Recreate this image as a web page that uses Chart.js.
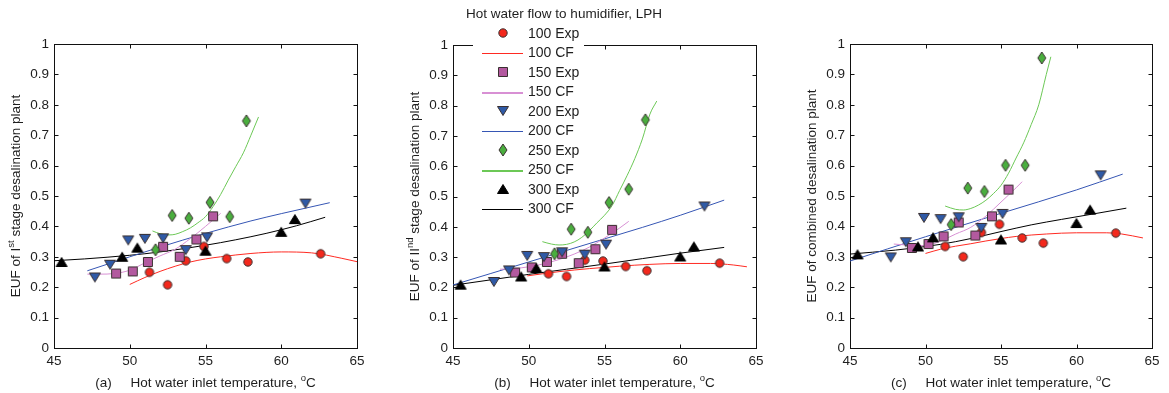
<!DOCTYPE html>
<html><head><meta charset="utf-8">
<script src="https://cdn.jsdelivr.net/npm/chart.js@4.4.1/dist/chart.umd.min.js"></script>
<style>
html,body{margin:0;padding:0;background:#fff;overflow:hidden;}
.panel{position:absolute;top:0;height:393px;}
</style></head><body>
<div class="panel" style="left:0;width:380px"><canvas id="chartA"></canvas></div>
<div class="panel" style="left:380px;width:390px"><canvas id="chartB"></canvas></div>
<div class="panel" style="left:770px;width:399px"><canvas id="chartC"></canvas></div>
<script>
// hot water flow to humidifier, LPH
const flows=['100','150','200','250','300'];
const xTicks=[45,50,55,60,65];
const yTicks=[0,0.1,0.2,0.3,0.4,0.5,0.6,0.7,0.8,0.9,1];

// inlet temperatures of the experimental runs (degC)
const t100=[51.3,52.5,53.7,54.9,56.4,57.8,62.6];
const t150=[49.1,50.2,51.2,52.2,53.3,54.4,55.5];
const t200=[47.7,48.7,49.9,51.0,52.2,53.7,55.1,61.6];
const t250=[51.7,52.8,53.9,55.3,56.6,57.7];
const t300=[45.5,49.5,50.5,55.0,60.0,60.9];

// (a) EUF of 1st stage, measured
const a100=[0.249,0.208,0.287,0.334,0.294,0.283,0.310];
const a150=[0.245,0.252,0.283,0.333,0.300,0.357,0.433];
const a200=[0.232,0.274,0.354,0.359,0.361,0.322,0.364,0.475];
const a250=[0.323,0.436,0.427,0.479,0.432,0.747];
const a300=[0.283,0.300,0.330,0.320,0.382,0.424];
// (a) curve fits [T, EUF]
const aFit100=[[50,0.209],[51,0.232],[52,0.252],[53,0.269],[54,0.283],[55,0.293],[56,0.300],[58,0.311],[60,0.316],[62,0.313],[64,0.295],[65,0.284]];
const aFit150=[[47.2,0.243],[48,0.243],[49,0.245],[50,0.256],[51,0.280],[52,0.303],[53,0.325],[54,0.360],[55,0.400],[56,0.443]];
const aFit200=[[47.2,0.254],[50,0.300],[52,0.332],[55,0.377],[58,0.418],[60,0.442],[63.2,0.478]];
const aFit250=[[51.5,0.385],[52,0.376],[52.6,0.372],[53,0.374],[53.5,0.383],[54,0.395],[54.5,0.412],[55,0.432],[55.5,0.465],[56,0.505],[56.5,0.552],[57,0.597],[57.5,0.642],[58,0.700],[58.5,0.760]];
const aFit300=[[45,0.287],[47,0.293],[50,0.305],[52,0.316],[55,0.338],[57,0.356],[59,0.377],[61,0.402],[62.9,0.430]];

// (b) EUF of 2nd stage, measured
const b100=[0.245,0.236,0.290,0.287,0.269,0.255,0.280];
const b150=[0.249,0.266,0.284,0.311,0.280,0.326,0.390];
const b200=[0.218,0.256,0.304,0.300,0.316,0.308,0.341,0.467];
const b250=[0.311,0.392,0.382,0.480,0.524,0.753];
const b300=[0.209,0.236,0.264,0.269,0.302,0.335];
const bFit100=[[49.9,0.238],[52,0.252],[54,0.262],[56,0.270],[58,0.276],[60,0.279],[62,0.279],[63.5,0.274],[64.4,0.268]];
const bFit150=[[48.1,0.260],[49,0.262],[50,0.268],[51,0.278],[52,0.292],[53,0.310],[54,0.333],[55,0.363],[56,0.396],[56.6,0.418]];
const bFit200=[[45,0.208],[47.5,0.246],[50,0.284],[52.5,0.322],[55,0.360],[57.5,0.398],[60,0.438],[62.9,0.488]];
const bFit250=[[50.9,0.351],[51.5,0.343],[52,0.340],[52.5,0.342],[53,0.350],[53.5,0.365],[54,0.387],[54.5,0.413],[55,0.438],[55.5,0.470],[56,0.520],[56.5,0.570],[57,0.625],[57.5,0.690],[58,0.772],[58.45,0.815]];
const bFit300=[[45,0.207],[47.5,0.225],[50,0.243],[52.5,0.260],[55,0.277],[57.5,0.295],[60,0.313],[62.9,0.332]];

// (c) EUF of combined plant, measured
const c100=[0.334,0.300,0.380,0.407,0.362,0.345,0.378];
const c150=[0.329,0.342,0.367,0.413,0.370,0.433,0.521];
const c200=[0.298,0.348,0.428,0.424,0.430,0.395,0.441,0.568];
const c250=[0.406,0.526,0.515,0.601,0.601,0.954];
const c300=[0.308,0.334,0.364,0.357,0.411,0.455];
const cFit100=[[50,0.311],[51,0.325],[52,0.335],[53,0.343],[54,0.352],[55,0.360],[56,0.367],[58,0.375],[60,0.379],[62,0.379],[63,0.375],[64.4,0.362]];
const cFit150=[[47.9,0.342],[49,0.338],[50,0.337],[51,0.352],[52,0.375],[53,0.397],[54,0.434],[55,0.480],[56,0.527],[56.4,0.547]];
const cFit200=[[45,0.286],[50,0.366],[55,0.443],[60,0.520],[63.06,0.572]];
const cFit250=[[51.3,0.467],[52,0.456],[52.5,0.454],[53,0.459],[53.5,0.470],[54,0.486],[54.5,0.508],[55,0.535],[55.5,0.575],[56,0.625],[56.5,0.675],[57,0.735],[57.5,0.800],[58,0.900],[58.3,0.958]];
const cFit300=[[45,0.309],[48,0.322],[51,0.341],[53,0.360],[55,0.383],[57,0.405],[59,0.423],[61,0.440],[63.3,0.460]];

const TEXT='#1e1e1e';
const FONT='"Liberation Sans", Arial, sans-serif';
const look={
  '100':{shape:'circle',fill:'#f3281c',line:'#ff2a22'},
  '150':{shape:'square',fill:'#b3599f',line:'#d890d4'},
  '200':{shape:'down',fill:'#2f5aa6',line:'#3656b4'},
  '250':{shape:'diamond',fill:'#4aae3e',line:'#6cc856'},
  '300':{shape:'up',fill:'#000000',line:'#000000'}
};

function drawShape(ctx,shape,cx,cy){
  ctx.beginPath();
  if(shape==='circle'){ ctx.arc(cx,cy,4.2,0,Math.PI*2); }
  else if(shape==='square'){ ctx.rect(cx-4.5,cy-4.5,9,9); }
  else if(shape==='down'){ ctx.moveTo(cx-5.5,cy-4.5); ctx.lineTo(cx+5.5,cy-4.5); ctx.lineTo(cx,cy+4.5); ctx.closePath(); }
  else if(shape==='up'){ ctx.moveTo(cx-5.5,cy+4.5); ctx.lineTo(cx+5.5,cy+4.5); ctx.lineTo(cx,cy-4.5); ctx.closePath(); }
  else { ctx.moveTo(cx,cy-6); ctx.lineTo(cx+4,cy); ctx.lineTo(cx,cy+6); ctx.lineTo(cx-4,cy); ctx.closePath(); }
}
function markerImage(flow){
  const c=document.createElement('canvas');
  c.width=16; c.height=16;
  const ctx=c.getContext('2d');
  drawShape(ctx,look[flow].shape,8,8);
  ctx.fillStyle=look[flow].fill; ctx.fill();
  ctx.lineWidth=1; ctx.strokeStyle=flow==='300'?'#000':'#3a3030'; ctx.stroke();
  return c;
}
const markers={};
flows.forEach((f)=>{ markers[f]=markerImage(f); });

function drawRich(ctx,parts,cx,cy,rot){
  ctx.save();
  ctx.translate(cx,cy);
  if(rot) ctx.rotate(-Math.PI/2);
  const fontOf=(p)=> p[1]?`9.5px ${FONT}`:`13.5px ${FONT}`;
  let w=0;
  parts.forEach((p)=>{ ctx.font=fontOf(p); w+=ctx.measureText(p[0]).width; });
  let x=-w/2;
  ctx.fillStyle=TEXT; ctx.textBaseline='alphabetic'; ctx.textAlign='left';
  parts.forEach((p)=>{
    ctx.font=fontOf(p);
    ctx.fillText(p[0],x,p[1]?-1.5:4.5);
    x+=ctx.measureText(p[0]).width;
  });
  ctx.restore();
}

const frame={
  id:'frame',
  beforeDatasetsDraw(chart){
    const {ctx,chartArea:a,scales:{x,y}}=chart;
    ctx.save();
    ctx.strokeStyle='#111'; ctx.lineWidth=1;
    const L=Math.round(a.left)+0.5,R=Math.round(a.right)+0.5,T=Math.round(a.top)+0.5,B=Math.round(a.bottom)+0.5;
    ctx.strokeRect(L,T,R-L,B-T);
    ctx.beginPath();
    xTicks.forEach((v)=>{
      const px=Math.round(x.getPixelForValue(v))+0.5;
      ctx.moveTo(px,B); ctx.lineTo(px,B-4);
      ctx.moveTo(px,T); ctx.lineTo(px,T+4);
    });
    yTicks.forEach((v)=>{
      const py=Math.round(y.getPixelForValue(v))+0.5;
      ctx.moveTo(L,py); ctx.lineTo(L+4,py);
      ctx.moveTo(R,py); ctx.lineTo(R-4,py);
    });
    ctx.stroke();
    ctx.restore();
  },
  afterDraw(chart,args,opts){
    const {ctx,chartArea:a}=chart;
    drawRich(ctx,opts.yTitle,a.left-39,(a.top+a.bottom)/2,true);
    drawRich(ctx,opts.xTitle,(a.left+a.right)/2,382,false);
    if(opts.legend) drawLegend(chart);
  }
};

function drawLegend(chart){
  const ctx=chart.ctx;
  const off=380;
  ctx.save();
  ctx.fillStyle='#fff';
  ctx.fillRect(473-off,0,111,218);
  ctx.fillStyle=TEXT; ctx.textBaseline='middle'; ctx.textAlign='center';
  ctx.font=`13.5px ${FONT}`;
  ctx.fillText('Hot water flow to humidifier, LPH',564-off,14);
  ctx.textAlign='left';
  ctx.font=`14px ${FONT}`;
  let y=33;
  flows.forEach((f)=>{
    ctx.drawImage(markers[f],503-off-8,Math.round(y)-8);
    ctx.fillStyle=TEXT;
    ctx.fillText(`${f} Exp`,528-off,y+1);
    y+=19.5;
    const thick=(f==='150'||f==='250')?2:1;
    ctx.fillStyle=look[f].line;
    ctx.fillRect(482-off,Math.round(y),41,thick);
    ctx.fillStyle=TEXT;
    ctx.fillText(`${f} CF`,528-off,y+1);
    y+=19.5;
  });
  ctx.restore();
}

Chart.defaults.font.family=FONT;
Chart.defaults.font.size=13;
Chart.defaults.color=TEXT;

function buildPanel(id,exp,fits,opts){
  const temps=[t100,t150,t200,t250,t300];
  const expSets=flows.map((f,i)=>({
    label:`${f} Exp`,
    data:temps[i].map((t,k)=>({x:t,y:exp[i][k]})),
    showLine:false,
    pointStyle:markers[f],
    pointRadius:5,
    pointHoverRadius:5,
    clip:10
  }));
  const fitSets=flows.map((f,i)=>({
    label:`${f} CF`,
    data:fits[i].map((p)=>({x:p[0],y:p[1]})),
    showLine:true,
    borderColor:look[f].line,
    borderWidth:1,
    pointRadius:0,
    cubicInterpolationMode:'monotone',
    fill:false
  }));
  return new Chart(document.getElementById(id),{
    type:'scatter',
    data:{ datasets:[...expSets.reverse(),...fitSets] },
    options:{
      responsive:true,
      maintainAspectRatio:false,
      animation:false,
      events:[],
      layout:{ padding:{ top:opts.top, right:opts.right, left:0, bottom:0 } },
      plugins:{
        legend:{ display:false },
        tooltip:{ enabled:false },
        frame:{ yTitle:opts.yTitle, xTitle:opts.xTitle, legend:!!opts.legend }
      },
      scales:{
        x:{
          type:'linear', min:45, max:65,
          afterBuildTicks:(s)=>{ s.ticks=xTicks.map((v)=>({value:v})); },
          ticks:{ padding:5, color:TEXT, font:{size:13.5} },
          grid:{ display:false, drawTicks:false },
          border:{ display:false },
          afterFit:(s)=>{ s.height=45; }
        },
        y:{
          type:'linear', min:0, max:1,
          afterBuildTicks:(s)=>{ s.ticks=yTicks.map((v)=>({value:v})); },
          ticks:{ padding:5, color:TEXT, font:{size:13.5}, callback:(v)=>String(Number(v.toFixed(1))) },
          grid:{ display:false, drawTicks:false },
          border:{ display:false },
          afterFit:(s)=>{ s.width=opts.yWidth; }
        }
      }
    },
    plugins:[frame]
  });
}

buildPanel('chartA',[a100,a150,a200,a250,a300],[aFit100,aFit150,aFit200,aFit250,aFit300],{
  top:44, right:23, yWidth:54,
  yTitle:[['EUF of I',0],['st',1],[' stage desalination plant',0]],
  xTitle:[['(a)     Hot water inlet temperature, ',0],['o',1],['C',0]]
});
buildPanel('chartB',[b100,b150,b200,b250,b300],[bFit100,bFit150,bFit200,bFit250,bFit300],{
  top:45, right:14, yWidth:73, legend:true,
  yTitle:[['EUF of II',0],['nd',1],[' stage desalination plant',0]],
  xTitle:[['(b)     Hot water inlet temperature, ',0],['o',1],['C',0]]
});
buildPanel('chartC',[c100,c150,c200,c250,c300],[cFit100,cFit150,cFit200,cFit250,cFit300],{
  top:44, right:17, yWidth:80,
  yTitle:[['EUF of combined desalination plant',0]],
  xTitle:[['(c)     Hot water inlet temperature, ',0],['o',1],['C',0]]
});
</script>
</body></html>
